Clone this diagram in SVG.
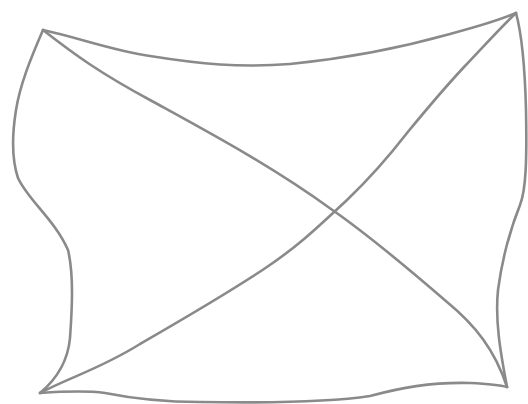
<svg xmlns="http://www.w3.org/2000/svg" width="528" height="404" viewBox="0 0 528 404">
<style>
.s{fill:none;stroke:#8a8a8a;stroke-width:2.6;stroke-linecap:round;stroke-linejoin:round}
</style>
<rect width="528" height="404" fill="#ffffff"/>
<g id="edges">
<path class="s" d="M43,30 C80,38 110,50 150,56 C200,64 240,68 290,64 C350,58 400,48 450,34 C480,26 500,20 516,13"/>
<path class="s" d="M43,30 C30,60 20,85 16,110 C12,135 12,160 18,178 C28,200 55,220 68,250 C74,275 72,310 70,338 C68,360 58,378 40,393"/>
<path class="s" d="M40,393 C70,391 90,391 105,393 C130,398 160,402 200,402 C260,403 330,402 370,396 C400,388 430,382 470,383 C490,384 500,385 507,387"/>
<path class="s" d="M516,13 C522,35 525,70 526,110 C527,160 526,190 520,205 C510,230 502,260 498,290 C495,320 500,350 507,387"/>
<path class="s" d="M43,30 C75,55 100,73 150,100 C210,133 270,165 331,209 C370,236 410,270 447,302 C475,325 495,350 507,387"/>
<path class="s" d="M40,393 C70,377 100,369 140,344 C185,318 225,295 264,269 C300,245 320,225 347,200 C370,178 390,155 407,133 C430,105 450,82 464,67 C485,45 500,28 516,13"/>
</g>
</svg>
